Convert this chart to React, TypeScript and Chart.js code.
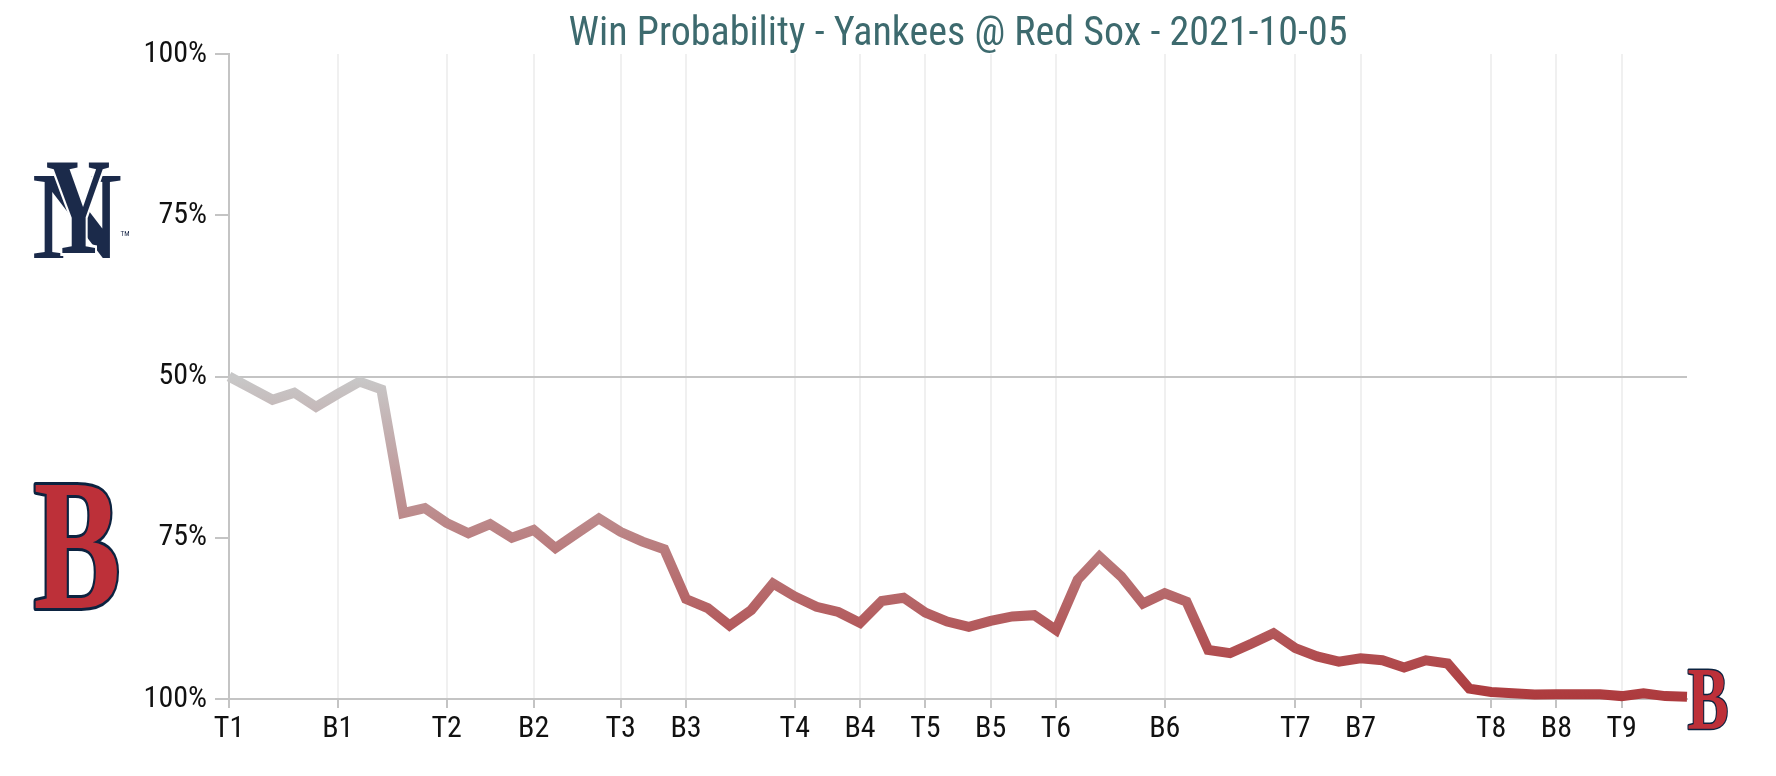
import React, { useEffect, useRef } from "react";
import { Chart, registerables } from "chart.js";

Chart.register(...registerables);

const TITLE = "Win Probability - Yankees @ Red Sox - 2021-10-05";
const inningLabels = ["T1", "B1", "T2", "B2", "T3", "B3", "T4", "B4", "T5", "B5", "T6", "B6", "T7", "B7", "T8", "B8", "T9"];
const inningStarts = [0, 5, 10, 14, 18, 21, 26, 29, 32, 35, 38, 43, 49, 52, 58, 61, 64];
const yankeesWinPct = [
  50, 48.2, 46.4, 47.5, 45.3, 47.3, 49.2, 48.0, 28.8, 29.6,
  27.3, 25.7, 27.1, 25.0, 26.2, 23.4, 25.7, 28.0, 25.9, 24.4,
  23.2, 15.5, 14.1, 11.4, 13.8, 17.9, 15.9, 14.3, 13.5, 11.8,
  15.2, 15.7, 13.4, 12.0, 11.2, 12.1, 12.8, 13.0, 10.7, 18.5,
  22.1, 19.0, 14.8, 16.4, 15.1, 7.6, 7.1, 8.6, 10.2, 7.9,
  6.6, 5.8, 6.3, 6.0, 4.9, 6.0, 5.5, 1.6, 1.1, 0.9,
  0.7, 0.75, 0.75, 0.75, 0.45, 0.9, 0.45, 0.35,
];
const yTickValues = [0, 25, 50, 75, 100];
const yTickLabels = ["100%", "75%", "50%", "75%", "100%"];

const FONT = "'Roboto Condensed', 'Liberation Sans Narrow', 'DejaVu Sans Condensed', Roboto, sans-serif";
const AXIS_GRAY = "#c4c4c4";
const NAVY = "#1b2a4a";
const SOX_RED = "#bd3039";

function drawB(c: CanvasRenderingContext2D, cx: number, cy: number, h: number) {
  c.save();
  const fs = h / 0.66;
  c.font = `bold ${fs}px "Liberation Serif", "DejaVu Serif", serif`;
  c.textAlign = "center";
  c.textBaseline = "alphabetic";
  c.translate(cx, cy + h / 2);
  c.scale(0.7, 1);
  c.lineJoin = "round";
  c.lineWidth = Math.max(3, h * 0.05);
  c.strokeStyle = "#0c2340";
  c.strokeText("B", 0, 0);
  c.fillStyle = SOX_RED;
  c.fillText("B", 0, 0);
  c.restore();
}

function drawNY(c: CanvasRenderingContext2D, cx: number, cy: number, h: number) {
  c.save();
  c.textAlign = "center";
  c.textBaseline = "alphabetic";
  c.fillStyle = NAVY;
  // N: full width, lower part
  const fsN = (h * 0.86) / 0.66;
  c.save();
  c.translate(cx, cy + h / 2);
  c.scale(1.0, 1);
  c.font = `bold ${fsN}px "Liberation Serif", "DejaVu Serif", serif`;
  c.fillText("N", 0, 0);
  c.restore();
  // Y: centred, raised, arms above the N
  c.save();
  c.fillStyle = "#ffffff";
  const fsY = (h * 0.94) / 0.66;
  c.translate(cx + 1, cy + h / 2 - 5);
  c.scale(0.66, 1);
  c.font = `bold ${fsY}px "Liberation Serif", "DejaVu Serif", serif`;
  c.lineWidth = 6;
  c.strokeStyle = "#ffffff";
  c.strokeText("Y", 0, 0);
  c.fillStyle = NAVY;
  c.fillText("Y", 0, 0);
  c.restore();
  c.font = `7px ${FONT}`;
  c.fillText("TM", cx + 48, cy + 26);
  c.restore();
}

const decorPlugin = {
  id: "decor",
  afterDraw(chart: any) {
    const { ctx: c, chartArea } = chart;
    c.save();
    c.font = `40px ${FONT}`;
    c.fillStyle = "#3d6a6e";
    c.textAlign = "center";
    c.textBaseline = "middle";
    c.fillText(TITLE, (chartArea.left + chartArea.right) / 2, 35);
    c.restore();
    drawNY(c, 77, 210, 96);
    drawB(c, 77, 546, 123);
    const ys = chart.scales.y;
    drawB(c, chartArea.right + 21, ys.getPixelForValue(yankeesWinPct[yankeesWinPct.length - 1]) + 2, 58);
  },
};

export default function App() {
  const ref = useRef<HTMLCanvasElement | null>(null);
  useEffect(() => {
    if (!ref.current) return;
    const data = yankeesWinPct.map((v, i) => ({ x: i, y: v }));
    const chart = new Chart(ref.current, {
      type: "line",
      data: {
        datasets: [
          {
            data,
            borderWidth: 10,
            tension: 0,
            pointRadius: 0,
            pointHoverRadius: 0,
            borderJoinStyle: "miter",
            borderCapStyle: "butt",
            clip: false as any,
            borderColor: (ctx: any) => {
              const ch = ctx.chart;
              const area = ch.chartArea;
              if (!area) return "#c8c8c8";
              const g = ch.ctx.createLinearGradient(0, area.top, 0, area.bottom);
              g.addColorStop(0, NAVY);
              g.addColorStop(0.5, "#c8c8c8");
              g.addColorStop(1, "#ad3a3d");
              return g;
            },
          },
        ],
      },
      options: {
        animation: false,
        responsive: true,
        maintainAspectRatio: false,
        layout: { padding: { top: 54, right: 89, bottom: 0, left: 0 } },
        plugins: { legend: { display: false }, tooltip: { enabled: false }, title: { display: false } },
        scales: {
          x: {
            type: "linear",
            min: 0,
            max: yankeesWinPct.length - 1,
            afterBuildTicks: (scale: any) => {
              scale.ticks = inningStarts.map((v) => ({ value: v }));
            },
            afterFit: (scale: any) => {
              scale.height = 77;
            },
            ticks: {
              autoSkip: false,
              maxRotation: 0,
              padding: 3,
              color: "#111",
              font: { family: FONT, size: 30 },
              callback: (v: any) => inningLabels[inningStarts.indexOf(Number(v))] ?? "",
            },
            grid: {
              color: "#f0f0f0",
              lineWidth: 2,
              tickColor: AXIS_GRAY,
              tickLength: 9,
              drawTicks: true,
            },
            border: { display: true, color: AXIS_GRAY, width: 2 },
          },
          y: {
            type: "linear",
            min: 0,
            max: 100,
            afterBuildTicks: (scale: any) => {
              scale.ticks = yTickValues.map((v) => ({ value: v }));
            },
            afterFit: (scale: any) => {
              scale.width = 229;
            },
            ticks: {
              padding: 8,
              color: "#111",
              font: { family: FONT, size: 30 },
              callback: (v: any) => yTickLabels[yTickValues.indexOf(Number(v))] ?? "",
            },
            grid: {
              color: (ctx: any) => (ctx.tick && ctx.tick.value === 50 ? AXIS_GRAY : "rgba(0,0,0,0)"),
              lineWidth: 2,
              tickColor: AXIS_GRAY,
              tickLength: 14,
              drawTicks: true,
            },
            border: { display: true, color: AXIS_GRAY, width: 2 },
          },
        },
      },
      plugins: [decorPlugin],
    });
    return () => chart.destroy();
  }, []);
  return (
    <div style={{ position: "absolute", left: 0, top: 0, width: 1776, height: 776, background: "#fff" }}>
      <canvas ref={ref} />
    </div>
  );
}
